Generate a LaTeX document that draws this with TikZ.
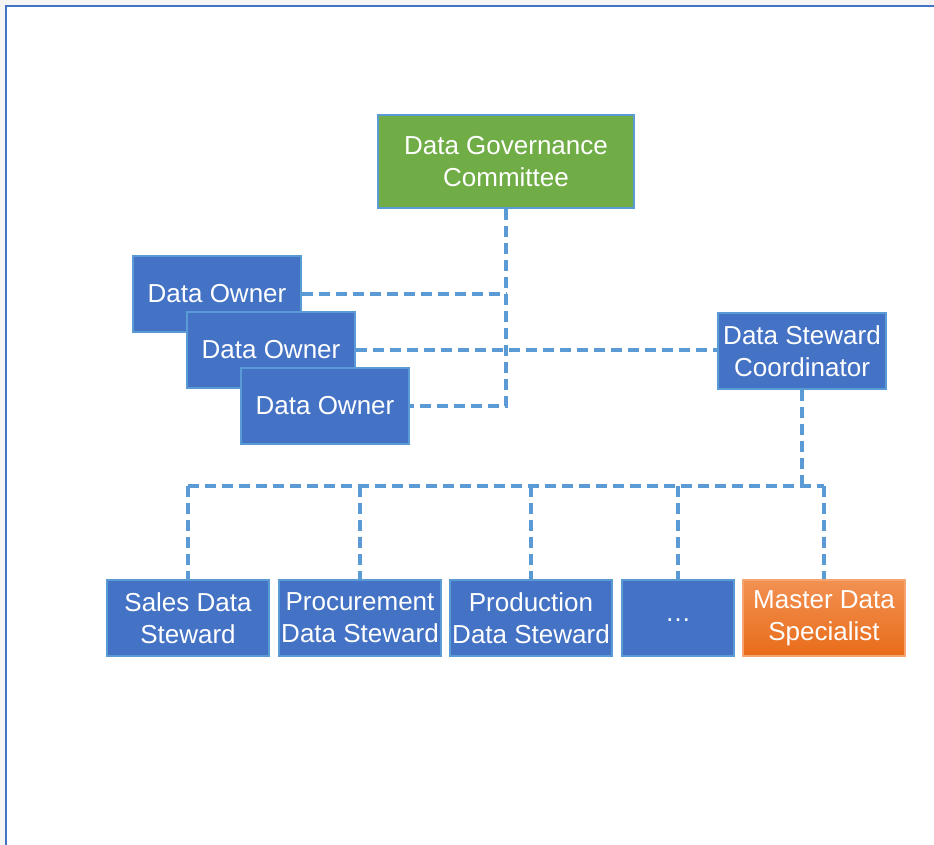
\documentclass[tikz,border=0pt]{standalone}
\usepackage{fontspec}
\setmainfont{Liberation Sans}
\usetikzlibrary{positioning,calc}

\definecolor{boxblue}{HTML}{4472C4}
\definecolor{edgeblue}{HTML}{5B9BD5}
\definecolor{govgreen}{HTML}{70AD47}
\definecolor{mdstop}{HTML}{F29152}
\definecolor{mdsbottom}{HTML}{E86C19}
\definecolor{mdsedge}{HTML}{F4A46E}

\tikzset{
	unit/.style={draw=edgeblue, line width=1.5pt, text=white, align=center,
		inner sep=0pt, font=\fontsize{26}{32}\selectfont},
	owner/.style={unit, fill=boxblue, minimum width=168pt, minimum height=76pt},
	steward/.style={unit, fill=boxblue, minimum width=162pt, minimum height=76pt},
	link/.style={draw=edgeblue, line width=3.5pt, dash pattern=on 11pt off 6pt},
}

\begin{document}
\begin{tikzpicture}[x=1pt,y=-1pt]
	\useasboundingbox (0,0) rectangle (934,845);
	\fill[black!4] (0,0) rectangle (934,845);
	\fill[white] (6,6) rectangle (934,845);
	\draw[boxblue, line width=2pt] (6,845) -- (6,6) -- (934,6);

	% committee and owners
	\node[unit, fill=govgreen, minimum width=256pt, minimum height=93pt] (dgc) at (506,161.5) {Data Governance\\Committee};
	\node[owner] (own1) at (217,294) {Data Owner};
	\node[owner] (own2) at ($(own1)+(54,56)$) {Data Owner};
	\node[owner] (own3) at ($(own2)+(54,56)$) {Data Owner};
	\node[owner] (dsc) at (802,351) {Data Steward\\Coordinator};

	% stewards
	\node[steward] (sales) at (188,618) {Sales Data\\Steward};
	\node[steward] (proc) at (360,618) {Procurement\\Data Steward};
	\node[steward] (prod) at (531,618) {Production\\Data Steward};
	\node[steward, minimum width=112pt] (more) at (678,618) {\raisebox{-7pt}{…}};
	\node[steward, draw=mdsedge, top color=mdstop, bottom color=mdsbottom] (mds) at (824,618) {Master Data\\Specialist};

	\coordinate (bus) at ($(dsc.south)+(0,96)$);

	\draw[link] (dgc.south) -- (dgc.south |- own3.east) -- (own3.east);
	\draw[link] (own1.east) -- (own1.east -| dgc.south);
	\draw[link] (own2.east) -- (own2.east -| dsc.west);
	\draw[link] (dsc.south) -- (bus);
	\draw[link] (sales.north |- bus) -- (mds.north |- bus);
	\foreach \n in {sales,proc,prod,more,mds}
		\draw[link] (\n.north |- bus) -- (\n.north);
\end{tikzpicture}
\end{document}
